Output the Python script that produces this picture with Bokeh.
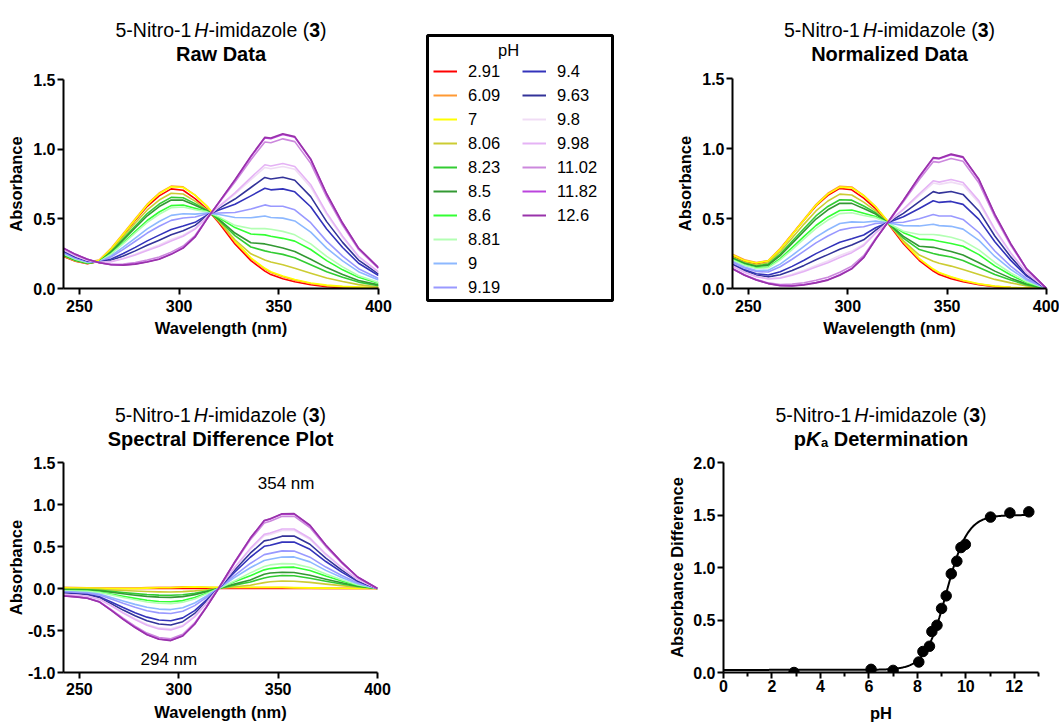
import numpy as np
from bokeh.plotting import figure
from bokeh.models import (Range1d, FixedTicker, PrintfTickFormatter, Label, Legend,
                          LegendItem, BoxAnnotation, Spacer)
from bokeh.layouts import row, column
from bokeh.embed import file_html
from bokeh.resources import INLINE

FONT = "Liberation Sans"

# ---------------------------------------------------------------- data
wavelength = [242, 248, 254, 260, 266, 272, 278, 284, 290, 296, 302, 308, 314,
              320, 328, 336, 343, 346, 352, 358, 366, 374, 382, 390, 400]

# raw absorbance spectra, one list per buffer pH
abs_2_91 = [0.230, 0.195, 0.177, 0.195, 0.280, 0.385, 0.490, 0.590, 0.665, 0.715, 0.705, 0.645, 0.570,
            0.470, 0.320, 0.200, 0.125, 0.100, 0.070, 0.048, 0.027, 0.013, 0.006, 0.003, 0.000]
abs_6_09 = [0.250, 0.210, 0.190, 0.205, 0.290, 0.395, 0.500, 0.605, 0.685, 0.735, 0.730, 0.670, 0.590,
            0.485, 0.335, 0.215, 0.140, 0.115, 0.085, 0.060, 0.036, 0.020, 0.012, 0.008, 0.005]
abs_7 = [0.245, 0.205, 0.188, 0.203, 0.285, 0.390, 0.495, 0.600, 0.680, 0.730, 0.725, 0.670, 0.590,
         0.490, 0.340, 0.220, 0.145, 0.120, 0.090, 0.065, 0.040, 0.024, 0.015, 0.010, 0.006]
abs_8_06 = [0.234, 0.198, 0.179, 0.194, 0.273, 0.371, 0.470, 0.564, 0.635, 0.684, 0.678, 0.627, 0.565,
            0.480, 0.350, 0.249, 0.205, 0.190, 0.170, 0.145, 0.110, 0.075, 0.050, 0.028, 0.010]
abs_8_23 = [0.238, 0.202, 0.181, 0.194, 0.266, 0.357, 0.449, 0.538, 0.606, 0.654, 0.651, 0.609, 0.561,
            0.490, 0.380, 0.298, 0.270, 0.260, 0.245, 0.220, 0.170, 0.120, 0.080, 0.046, 0.020]
abs_8_5 = [0.240, 0.204, 0.183, 0.193, 0.261, 0.348, 0.436, 0.522, 0.588, 0.635, 0.634, 0.598, 0.558,
           0.496, 0.398, 0.328, 0.320, 0.310, 0.290, 0.265, 0.210, 0.150, 0.100, 0.058, 0.026]
abs_8_6 = [0.245, 0.208, 0.185, 0.192, 0.252, 0.330, 0.410, 0.488, 0.549, 0.595, 0.599, 0.575, 0.552,
           0.508, 0.437, 0.391, 0.385, 0.375, 0.360, 0.340, 0.280, 0.200, 0.134, 0.080, 0.038]
abs_8_81 = [0.247, 0.210, 0.187, 0.192, 0.248, 0.322, 0.399, 0.474, 0.533, 0.579, 0.585, 0.565, 0.550,
            0.514, 0.453, 0.430, 0.430, 0.425, 0.410, 0.385, 0.320, 0.230, 0.155, 0.092, 0.044]
abs_9 = [0.254, 0.215, 0.190, 0.191, 0.235, 0.297, 0.362, 0.428, 0.481, 0.525, 0.537, 0.534, 0.542,
         0.531, 0.510, 0.508, 0.520, 0.510, 0.505, 0.485, 0.405, 0.290, 0.198, 0.121, 0.061]
abs_9_19 = [0.259, 0.219, 0.193, 0.190, 0.227, 0.281, 0.339, 0.398, 0.447, 0.489, 0.506, 0.513, 0.536,
            0.542, 0.545, 0.570, 0.600, 0.590, 0.590, 0.565, 0.472, 0.340, 0.232, 0.142, 0.072]
abs_9_4 = [0.267, 0.226, 0.198, 0.189, 0.212, 0.251, 0.295, 0.342, 0.383, 0.424, 0.448, 0.475, 0.527,
           0.563, 0.605, 0.665, 0.720, 0.708, 0.715, 0.694, 0.587, 0.427, 0.294, 0.181, 0.093]
abs_9_63 = [0.272, 0.230, 0.200, 0.188, 0.203, 0.233, 0.270, 0.310, 0.347, 0.386, 0.415, 0.453, 0.521,
            0.575, 0.642, 0.725, 0.797, 0.786, 0.798, 0.777, 0.659, 0.480, 0.331, 0.204, 0.105]
abs_9_8 = [0.277, 0.234, 0.203, 0.187, 0.195, 0.217, 0.246, 0.280, 0.312, 0.351, 0.383, 0.432, 0.516,
           0.586, 0.677, 0.781, 0.869, 0.860, 0.876, 0.856, 0.727, 0.530, 0.366, 0.225, 0.116]
abs_9_98 = [0.278, 0.235, 0.203, 0.187, 0.193, 0.213, 0.240, 0.272, 0.303, 0.341, 0.375, 0.426, 0.514,
            0.589, 0.686, 0.796, 0.888, 0.879, 0.897, 0.876, 0.745, 0.543, 0.375, 0.231, 0.119]
abs_11_02 = [0.288, 0.243, 0.209, 0.185, 0.174, 0.176, 0.186, 0.204, 0.226, 0.261, 0.305, 0.380, 0.502,
             0.615, 0.764, 0.924, 1.051, 1.046, 1.074, 1.054, 0.898, 0.657, 0.454, 0.280, 0.145]
abs_11_82 = [0.290, 0.245, 0.210, 0.185, 0.171, 0.169, 0.177, 0.192, 0.212, 0.247, 0.292, 0.371, 0.500,
             0.619, 0.778, 0.946, 1.080, 1.075, 1.105, 1.085, 0.925, 0.677, 0.468, 0.289, 0.149]
abs_12_6 = [0.290, 0.245, 0.210, 0.185, 0.170, 0.168, 0.175, 0.190, 0.210, 0.245, 0.290, 0.370, 0.500,
            0.620, 0.780, 0.950, 1.085, 1.080, 1.110, 1.090, 0.930, 0.680, 0.470, 0.290, 0.150]

ph_labels = ["2.91", "6.09", "7", "8.06", "8.23", "8.5", "8.6", "8.81", "9",
             "9.19", "9.4", "9.63", "9.8", "9.98", "11.02", "11.82", "12.6"]
line_colors = ["#FF0000", "#FF9933", "#FFFF00", "#CCCC33", "#33CC33", "#339933", "#33FF33",
               "#B3FFB3", "#8DB8FF", "#9999FF", "#3333BB", "#333399", "#F0DCF5", "#E5B3F5",
               "#CC88DD", "#BB44DD", "#9933AA"]
raw_spectra = [abs_2_91, abs_6_09, abs_7, abs_8_06, abs_8_23, abs_8_5, abs_8_6, abs_8_81, abs_9,
               abs_9_19, abs_9_4, abs_9_63, abs_9_8, abs_9_98, abs_11_02, abs_11_82, abs_12_6]

raw = np.array(raw_spectra)
normalized = raw - raw[:, -1:]            # every spectrum zeroed at 400 nm
difference = normalized - normalized[0]   # most acidic spectrum subtracted

# titration: absorbance difference (354 nm minus 294 nm) against pH
titration_ph = [2.91, 6.09, 7, 8.06, 8.23, 8.5, 8.6, 8.81, 9, 9.19, 9.4, 9.63, 9.8, 9.98, 11.02, 11.82, 12.6]
titration_absdiff = [0.00, 0.03, 0.02, 0.10, 0.20, 0.25, 0.39, 0.45, 0.61, 0.73, 0.94, 1.06, 1.19, 1.22,
                     1.48, 1.52, 1.53]

# sigmoidal fit parameters
fit_bottom, fit_top, fit_pka = 0.025, 1.50, 9.2

# ---------------------------------------------------------------- helpers
REG = {'5': 556, '-': 333, 'N': 722, 'i': 222, 't': 278, 'r': 333, 'o': 556, '1': 556, 'm': 833,
       'd': 556, 'a': 556, 'z': 500, 'l': 222, 'e': 556, ' ': 278, '(': 333, ')': 333, 'H': 722}
BOLD = {'3': 556, 'p': 611, 'K': 722, 'a': 556, ' ': 278, 'D': 722, 'e': 556, 't': 333, 'r': 389,
        'm': 889, 'i': 278, 'n': 611, 'o': 611}


def text_width(txt, style, size):
    table = BOLD if "bold" in style else REG
    return sum(table[c] for c in txt) * size / 1000.0


def blank_figure(width, height):
    """Axis-less canvas whose data units are pixels (y measured upwards)."""
    f = figure(width=width, height=height, x_range=Range1d(0, width), y_range=Range1d(0, height),
               min_border=0, x_axis_location=None, y_axis_location=None, frame_align=False,
               toolbar_location=None, output_backend="svg")
    f.grid.visible = False
    f.outline_line_color = None
    return f


def rich_line(f, pieces, cx, baseline):
    """pieces: (text, style, size, dy, gap_after), laid out left to right around cx."""
    widths = [text_width(t, s, z) + g for t, s, z, dy, g in pieces]
    x = cx - sum(widths) / 2.0
    for (t, s, z, dy, g), w in zip(pieces, widths):
        f.add_layout(Label(x=x, y=baseline + dy, text=t, text_font=FONT, text_font_style=s,
                           text_font_size=f"{z}px", text_align="left",
                           text_baseline="alphabetic", text_color="black"))
        x += w


def title_block(width, height, cx, base1, base2, second):
    f = blank_figure(width, height)
    rich_line(f, [("5-Nitro-1", "normal", 19.5, 0, 3), ("H", "italic", 19.5, 0, 0),
                  ("-imidazole (", "normal", 19.5, 0, 0), ("3", "bold", 19.5, 0, 0),
                  (")", "normal", 19.5, 0, 0)], cx, base1)
    if isinstance(second, str):
        f.add_layout(Label(x=cx, y=base2, text=second, text_font=FONT, text_font_style="bold",
                           text_font_size="20px", text_align="center",
                           text_baseline="alphabetic", text_color="black"))
    else:
        rich_line(f, second, cx, base2)
    return f


def style_axis(ax, label, tick_standoff, label_standoff):
    ax.axis_label = label
    ax.axis_label_text_font = FONT
    ax.axis_label_text_font_size = "16.5px"
    ax.axis_label_text_font_style = "bold"
    ax.axis_label_text_color = "black"
    ax.axis_label_standoff = label_standoff
    ax.major_label_text_font = FONT
    ax.major_label_text_font_size = "16px"
    ax.major_label_text_font_style = "bold"
    ax.major_label_text_color = "black"
    ax.major_label_standoff = tick_standoff
    ax.axis_line_width = 2
    ax.axis_line_color = "black"
    ax.major_tick_line_width = 2
    ax.major_tick_line_color = "black"
    ax.major_tick_out = 6
    ax.major_tick_in = 0
    ax.minor_tick_out = 0
    ax.minor_tick_in = 0


def base_figure(width, height, left, right, top, bottom, xr, yr):
    p = figure(width=width, height=height, x_range=Range1d(*xr), y_range=Range1d(*yr),
               min_border_left=left, min_border_right=right, min_border_top=top,
               min_border_bottom=bottom, frame_align=False,
               toolbar_location=None, output_backend="svg")
    p.grid.visible = False
    p.outline_line_color = None
    p.background_fill_color = "white"
    p.border_fill_color = "white"
    return p


def spectrum_figure(width, height, left, right, top, bottom, yr, yticks, spectra,
                    x_std, xl_std, y_std, yl_std):
    p = base_figure(width, height, left, right, top, bottom, (242, 400), yr)
    for values, color in zip(spectra, line_colors):
        p.line(wavelength, list(values), line_color=color, line_width=1.6, line_join="round")
    p.xaxis.ticker = FixedTicker(ticks=[250, 300, 350, 400], minor_ticks=[])
    p.yaxis.ticker = FixedTicker(ticks=yticks, minor_ticks=[])
    p.yaxis.formatter = PrintfTickFormatter(format="%.1f")
    style_axis(p.xaxis[0], "Wavelength (nm)", x_std, xl_std)
    style_axis(p.yaxis[0], "Absorbance", y_std, yl_std)
    return p


# ---------------------------------------------------------------- raw data
t_raw = title_block(420, 64, 220.5, 34.5, 10.5, "Raw Data")
p_raw = spectrum_figure(420, 326, 63, 42, 15, 102, (0, 1.5), [0, 0.5, 1.0, 1.5], raw,
                        5, 4, 2, 5)

# ---------------------------------------------------------------- legend panel
p_leg = blank_figure(240, 390)
items = []
for lab, color in zip(ph_labels, line_colors):
    r = p_leg.line(x=[np.nan, np.nan], y=[np.nan, np.nan], line_color=color, line_width=2)
    items.append(LegendItem(label=lab, renderers=[r]))
legend = Legend(items=items, location=(13, 93), nrows=10, orientation="vertical",
                glyph_width=24, glyph_height=20, label_height=20, label_width=50,
                label_standoff=11, spacing=4, padding=0, margin=0,
                border_line_color=None, background_fill_alpha=0,
                label_text_font=FONT, label_text_font_size="16.5px", label_text_color="black")
p_leg.add_layout(legend, "center")
p_leg.add_layout(BoxAnnotation(left=7, right=192, bottom=90, top=355, fill_alpha=0,
                               line_color="black", line_alpha=1.0, line_width=3))
p_leg.add_layout(Label(x=88, y=341, text="pH", text_font=FONT, text_font_size="16.5px",
                       text_align="center", text_baseline="alphabetic", text_color="black"))

# ---------------------------------------------------------------- normalized data
t_norm = title_block(399, 64, 229, 34.5, 10.5, "Normalized Data")
p_norm = spectrum_figure(399, 326, 72, 13, 14, 102, (0, 1.5), [0, 0.5, 1.0, 1.5], normalized,
                         5, 4, 2, 5)

# ---------------------------------------------------------------- difference spectra
t_diff = title_block(420, 62, 220, 38, 14, "Spectral Difference Plot")
p_diff = spectrum_figure(420, 272, 63, 43, 10, 52, (-1.0, 1.5),
                         [-1.0, -0.5, 0, 0.5, 1.0, 1.5], difference, 4, 5, 2, 0)
p_diff.add_layout(Label(x=354, y=1.245, text="354 nm", text_font=FONT, text_font_size="17px",
                        text_align="center", text_baseline="middle", text_color="black"))
p_diff.add_layout(Label(x=295, y=-0.85, text="294 nm", text_font=FONT, text_font_size="17px",
                        text_align="center", text_baseline="middle", text_color="black"))

# ---------------------------------------------------------------- pKa determination
t_pka = title_block(399, 62, 220.5, 38, 14,
                    [("p", "bold", 20, 0, 0), ("K", "bold italic", 20, 0, 0.5),
                     ("a", "bold", 13, -4, 5.6), ("Determination", "bold", 20, 0, 0)])
p_pka = base_figure(399, 272, 63, 21, 10, 52, (0, 13), (0, 2.0))
fit_ph = np.linspace(0, 12.6, 400)
fit_y = fit_bottom + (fit_top - fit_bottom) / (1 + 10 ** (fit_pka - fit_ph))
p_pka.line(fit_ph, fit_y, line_color="black", line_width=2)
p_pka.scatter(titration_ph, titration_absdiff, size=10.5, marker="circle",
              fill_color="black", line_color="black")
p_pka.xaxis.ticker = FixedTicker(ticks=[0, 2, 4, 6, 8, 10, 12], minor_ticks=[1, 3, 5, 7, 9, 11, 13])
p_pka.yaxis.ticker = FixedTicker(ticks=[0, 0.5, 1.0, 1.5, 2.0], minor_ticks=[])
p_pka.yaxis.formatter = PrintfTickFormatter(format="%.1f")
style_axis(p_pka.xaxis[0], "pH", 1, 9)
style_axis(p_pka.yaxis[0], "Absorbance Difference", 2, 4)
p_pka.xaxis.minor_tick_out = 4
p_pka.xaxis.minor_tick_line_width = 2
p_pka.xaxis.minor_tick_line_color = "black"

page = column(row(column(t_raw, p_raw), p_leg, column(t_norm, p_norm)),
              row(column(t_diff, p_diff), Spacer(width=240, height=334), column(t_pka, p_pka)))

open("out.html", "w").write(file_html(page, INLINE))
